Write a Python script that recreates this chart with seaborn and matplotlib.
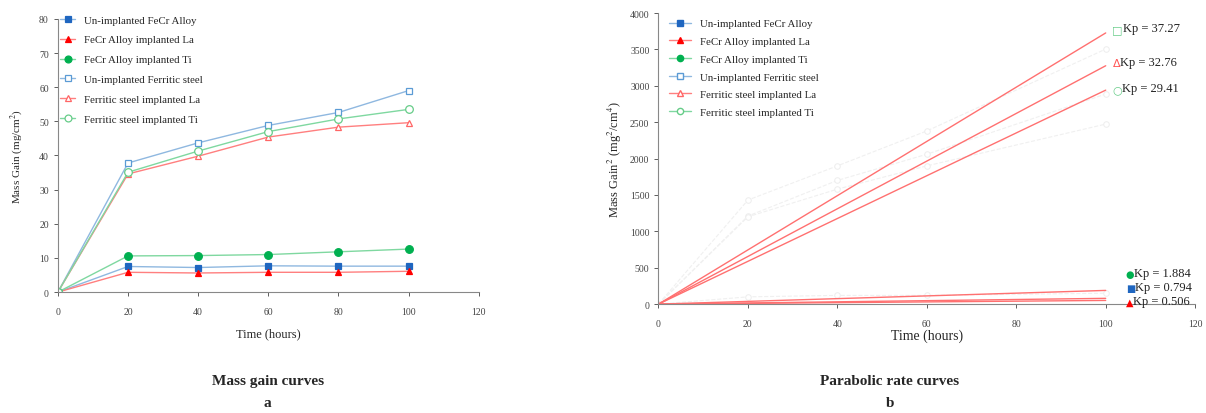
import matplotlib
matplotlib.use("Agg")
import matplotlib.pyplot as plt
import seaborn as sns
import pandas as pd

sns.set_style("white")
plt.rcParams['font.family'] = ['Liberation Serif', 'DejaVu Serif']
plt.rcParams['mathtext.fontset'] = 'stix'

time = [0, 20, 40, 60, 80, 100]
labels = ['Un-implanted FeCr Alloy', 'FeCr Alloy implanted La', 'FeCr Alloy implanted Ti',
          'Un-implanted Ferritic steel', 'Ferritic steel implanted La', 'Ferritic steel implanted Ti']

fecr = [0, 7.5, 7.2, 7.7, 7.6, 7.6]
fecr_la = [0, 5.8, 5.6, 5.8, 5.8, 6.1]
fecr_ti = [0, 10.6, 10.7, 11.0, 11.8, 12.6]
ferr = [0, 37.8, 43.7, 48.8, 52.6, 59.0]
ferr_la = [0, 34.6, 39.8, 45.4, 48.3, 49.6]
ferr_ti = [0, 35.1, 41.3, 47.0, 50.7, 53.5]

# squared mass gain points (faint dashed in panel b)
sq_time = [0, 20, 40, 60, 100]
sq_a = [0, 1430, 1900, 2380, 3505]
sq_b = [0, 1210, 1700, 2060, 2887]
sq_c = [0, 1200, 1580, 1900, 2474]
sq_d = [0, 100, 120, 120, 150]

# parabolic rate constants
kp_vals = [37.27, 32.76, 29.41, 1.884, 0.794, 0.506]
kp_time = [0, 100]

line_cols = ['#8fb8e0', '#ff7f7f', '#7fd8a0', '#8fb8e0', '#ff7f7f', '#7fd8a0']
mk_cols = ['#1f66c0', '#ff0000', '#00b050', '#5b9bd5', '#ff6666', '#66cc88']
markers = ['s', '^', 'o', 's', '^', 'o']
filled = [True, True, True, False, False, False]
series = [fecr, fecr_la, fecr_ti, ferr, ferr_la, ferr_ti]

fig = plt.figure(figsize=(12.06, 4.14), dpi=100)
ax1 = fig.add_axes([0.048, 0.292, 0.349, 0.66])
ax2 = fig.add_axes([0.546, 0.263, 0.445, 0.703])

for i, vals in enumerate(series):
    df = pd.DataFrame({'t': time, 'v': vals})
    sns.lineplot(data=df, x='t', y='v', ax=ax1, color=line_cols[i], lw=1.0,
                 marker=markers[i], markersize=5 if markers[i] != 'o' else 5.5,
                 markerfacecolor=mk_cols[i] if filled[i] else 'white',
                 markeredgecolor=mk_cols[i], markeredgewidth=0.9, label=labels[i])

ax1.set_xlim(0, 120)
ax1.set_ylim(0, 80)
ax1.set_xticks(range(0, 121, 20))
ax1.set_yticks(range(0, 81, 10))
ax1.set_xlabel('Time (hours)', fontsize=9, labelpad=8)
ax1.set_ylabel('Mass Gain (mg/cm$^2$)', fontsize=8, labelpad=10)
ax1.legend(loc='upper left', bbox_to_anchor=(-0.005, 1.03), frameon=False, fontsize=7.8,
           handlelength=1.4, labelspacing=0.95, borderaxespad=0, markerscale=0.9)

# panel b
for sq in [sq_a, sq_b, sq_c, sq_d]:
    df = pd.DataFrame({'t': sq_time, 'v': sq})
    sns.lineplot(data=df, x='t', y='v', ax=ax2, color='#f0f0f0', lw=0.8, linestyle='--',
                 marker='o', markersize=4, markerfacecolor='white', markeredgecolor='#eeeeee')
for k in kp_vals:
    df = pd.DataFrame({'t': kp_time, 'v': [k * t for t in kp_time]})
    sns.lineplot(data=df, x='t', y='v', ax=ax2, color='#ff7070', lw=1.0)

# legend handles for panel b
for i in range(6):
    ax2.plot([], [], color=line_cols[i], lw=1.0, marker=markers[i], markersize=4.5,
             markerfacecolor=mk_cols[i] if filled[i] else 'white',
             markeredgecolor=mk_cols[i], label=labels[i])
ax2.legend(loc='upper left', bbox_to_anchor=(0.012, 0.995), frameon=False, fontsize=7.8,
           handlelength=2.0, labelspacing=0.75, borderaxespad=0)

kp_text = [('□', '#66cc88', 'Kp = 37.27', 3780), ('Δ', '#ff5555', 'Kp = 32.76', 3320),
           ('○', '#66cc88', 'Kp = 29.41', 2950)]
for sym, c, txt, y in kp_text:
    t = ax2.text(101.5, y, sym, color=c, fontsize=8, va='center', family=['DejaVu Sans'])
    ax2.annotate(txt, xy=(1, 0), xycoords=t, va='bottom', fontsize=9, color='#222222')
low_text = [('●', '#00b050', 'Kp = 1.884', 420), ('■', '#1f66c0', 'Kp = 0.794', 215),
            ('▲', '#ff0000', 'Kp = 0.506', 35)]
for sym, c, txt, y in low_text:
    t = ax2.text(104.5, y, sym, color=c, fontsize=7, va='center', family=['DejaVu Sans'])
    ax2.annotate(txt, xy=(1, 0), xycoords=t, va='bottom', fontsize=9, color='#222222')

ax2.set_xlim(0, 120)
ax2.set_ylim(0, 4000)
ax2.set_xticks(range(0, 121, 20))
ax2.set_yticks(range(0, 4001, 500))
ax2.set_xlabel('Time (hours)', fontsize=10, labelpad=0)
ax2.set_ylabel('Mass Gain$^2$ (mg$^2$/cm$^4$)', fontsize=9, labelpad=4)

for ax in (ax1, ax2):
    sns.despine(ax=ax)
    for s in ('left', 'bottom'):
        ax.spines[s].set_color('#888888')
        ax.spines[s].set_linewidth(0.8)
    ax.tick_params(axis='both', labelsize=7, colors='#444444', length=3, width=0.6,
                   direction='out', bottom=True, left=True)
    ax.tick_params(axis='x', pad=8)

fig.text(0.222, 0.07, 'Mass gain curves', ha='center', fontsize=11, weight='bold')
fig.text(0.222, 0.018, 'a', ha='center', fontsize=11, weight='bold')
fig.text(0.738, 0.07, 'Parabolic rate curves', ha='center', fontsize=11, weight='bold')
fig.text(0.738, 0.018, 'b', ha='center', fontsize=11, weight='bold')

fig.savefig('out.png', dpi=100)
